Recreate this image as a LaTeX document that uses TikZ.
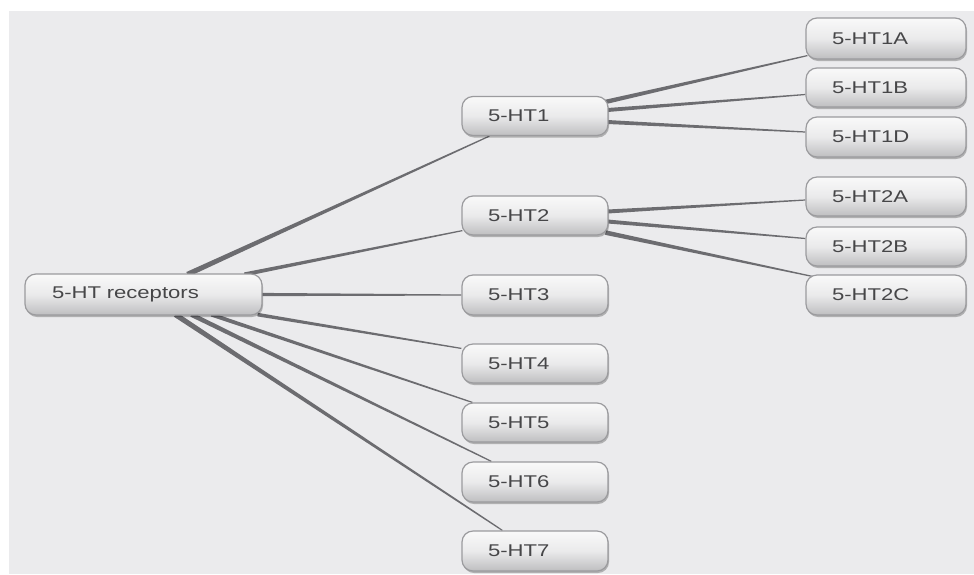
\documentclass[tikz,border=0pt]{standalone}
\usepackage{fontspec}
\setmainfont{Liberation Sans}[FakeStretch=1.3]
\usetikzlibrary{calc,shadows}
\pgfdeclarelayer{bgl}
\pgfdeclarelayer{edgel}
\pgfsetlayers{bgl,edgel,main}
\definecolor{bgc}{RGB}{235,235,237}
\definecolor{edgec}{RGB}{108,108,112}
\definecolor{boxline}{RGB}{155,155,158}
\definecolor{txt}{RGB}{70,70,72}
\definecolor{boxtop}{RGB}{249,249,249}
\definecolor{boxmid}{RGB}{234,234,235}
\definecolor{boxbot}{RGB}{190,190,192}
% tapered connector: start, end, half width at start
\newcommand\taper[3]{\fill[edgec] ($#1!#3!90:#2$) -- ($#2!0.6pt!-90:#1$) -- ($#2!0.6pt!90:#1$) -- ($#1!#3!-90:#2$) -- cycle;}
\tikzset{
  box/.style={rectangle, rounded corners=11pt, draw=boxline, line width=1.2pt,
    top color=boxtop, bottom color=boxbot, middle color=boxmid,
    drop shadow={shadow xshift=1pt, shadow yshift=-2pt, opacity=0.25, fill=black},
    minimum height=40pt, inner xsep=26pt, inner ysep=0pt, align=left,
    text=txt, font=\fontsize{17}{20}\selectfont},
  mid/.style={box, minimum width=146pt, text width=94pt},
  leaf/.style={box, minimum width=160pt, text width=108pt},
}
\begin{document}
\begin{tikzpicture}[x=1pt,y=-1pt]
\begin{pgfonlayer}{bgl}
  \fill[white] (0,0) rectangle (974,574);
  \fill[bgc] (9,11) rectangle (974,574);
\end{pgfonlayer}
\useasboundingbox (0,0) rectangle (974,574);

\node[box, minimum width=237pt, text width=183pt, minimum height=41pt] (root) at (143.5,294.5) {5-HT receptors};

\node[mid, minimum height=39pt] (h1) at (535,116) {5-HT1};
\node[mid, minimum height=39pt] (h2) at (535,215.5) {5-HT2};
\node[mid] (h3) at (535,295) {5-HT3};
\node[mid, minimum height=39pt] (h4) at (535,363.5) {5-HT4};
\node[mid, minimum height=39pt] (h5) at (535,422.5) {5-HT5};
\node[mid] (h6) at (535,482) {5-HT6};
\node[mid] (h7) at (535,551) {5-HT7};

\node[leaf, minimum height=41pt] (a1) at (886,38.5) {5-HT1A};
\node[leaf, minimum height=39pt] (b1) at (886,87.5) {5-HT1B};
\node[leaf] (d1) at (886,137) {5-HT1D};
\node[leaf, minimum height=39pt] (a2) at (886,196.5) {5-HT2A};
\node[leaf, minimum height=39pt] (b2) at (886,246.5) {5-HT2B};
\node[leaf] (c2) at (886,295) {5-HT2C};

% connector end points
\coordinate (r1) at ($(root.north west)+(163,1)$);
\coordinate (r2) at ($(root.north west)+(220,1)$);
\coordinate (r3) at ($(root.east)+(-1,0)$);
\coordinate (r4) at ($(root.south east)+(-5,-1)$);
\coordinate (r5) at ($(root.south west)+(187,-1)$);
\coordinate (r6) at ($(root.south west)+(167,-1)$);
\coordinate (r7) at ($(root.south west)+(151,-1)$);
\coordinate (e1) at ($(h1.south west)+(28,0)$);
\coordinate (e2) at ($(h2.south west)+(1,-5)$);
\coordinate (e3) at (h3.west);
\coordinate (e4) at ($(h4.north west)+(0,5)$);
\coordinate (e5) at ($(h5.north west)+(11,0)$);
\coordinate (e6) at ($(h6.north west)+(30,0)$);
\coordinate (e7) at ($(h7.north west)+(41,0)$);

\coordinate (p1a) at ($(h1.north east)+(-3,6)$);
\coordinate (p1b) at ($(h1.east)+(-1,-6)$);
\coordinate (p1d) at ($(h1.east)+(-1,6)$);
\coordinate (q1a) at ($(a1.south west)+(2,-4)$);
\coordinate (q1b) at ($(b1.west)+(0,7)$);
\coordinate (q1d) at ($(d1.west)+(0,-5)$);
\coordinate (p2a) at ($(h2.east)+(-1,-4)$);
\coordinate (p2b) at ($(h2.east)+(-1,6)$);
\coordinate (p2c) at ($(h2.south east)+(-3,-3)$);
\coordinate (q2a) at ($(a2.west)+(0,3.5)$);
\coordinate (q2b) at ($(b2.west)+(0,-8)$);
\coordinate (q2c) at ($(c2.north west)+(7,2)$);

\begin{pgfonlayer}{edgel}
  \taper{(r1)}{(e1)}{2.6pt}
  \taper{(r2)}{(e2)}{2.0pt}
  \taper{(r3)}{(e3)}{1.6pt}
  \taper{(r4)}{(e4)}{1.8pt}
  \taper{(r5)}{(e5)}{2.0pt}
  \taper{(r6)}{(e6)}{2.3pt}
  \taper{(r7)}{(e7)}{2.6pt}
  \taper{(p1a)}{(q1a)}{2.2pt}
  \taper{(p1b)}{(q1b)}{2.0pt}
  \taper{(p1d)}{(q1d)}{2.0pt}
  \taper{(p2a)}{(q2a)}{2.0pt}
  \taper{(p2b)}{(q2b)}{2.0pt}
  \taper{(p2c)}{(q2c)}{2.3pt}
\end{pgfonlayer}
\end{tikzpicture}
\end{document}
